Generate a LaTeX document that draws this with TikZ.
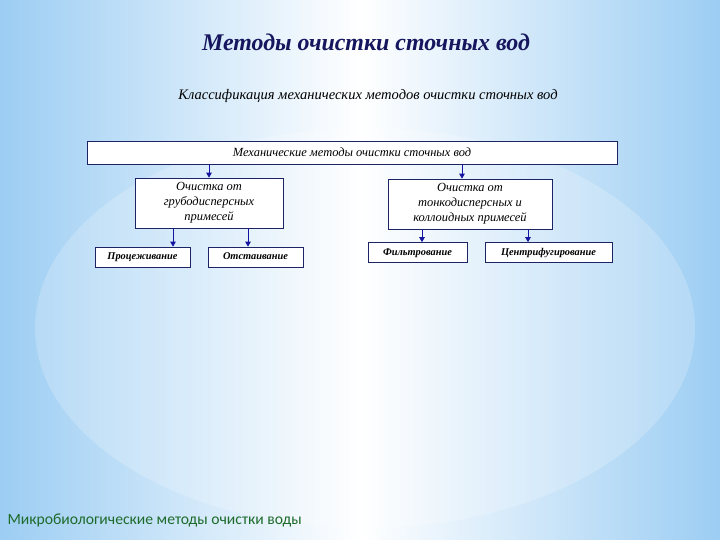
\documentclass[tikz,border=0pt]{standalone}
\usepackage{fontspec}
\setmainfont{Liberation Serif}
\newfontfamily\greensans{Carlito}
\usetikzlibrary{arrows.meta,positioning}
\definecolor{bgblue}{HTML}{9CCDF3}
\definecolor{titlenavy}{HTML}{16165E}
\definecolor{boxnavy}{HTML}{1C2466}
\definecolor{arrblue}{HTML}{1414A0}
\definecolor{microgreen}{HTML}{1D6A2A}

\begin{document}
\begin{tikzpicture}[x=1bp, y=-1bp,
  box/.style={draw=boxnavy, fill=white, line width=0.7pt, inner sep=1pt, align=center,
              font=\fontsize{12.5}{15}\selectfont\itshape},
  leaf/.style={box, minimum height=20bp, text height=7.5pt, text depth=2pt,
               font=\fontsize{10.4}{12}\selectfont\bfseries\itshape},
  arr/.style={-{Triangle[length=5bp,width=5.5bp]}, draw=arrblue, fill=arrblue, line width=0.8pt}
]
\useasboundingbox (0,0) rectangle (720,540);
\shade[left color=bgblue, right color=bgblue, middle color=white] (0,0) rectangle (720,540);
\fill[white, opacity=0.2] (365,328) ellipse [x radius=330, y radius=200];

\node[font=\fontsize{24}{28}\selectfont\bfseries\itshape, text=titlenavy] (ttl) at (366,42) {Методы очистки сточных вод};
\node[font=\fontsize{14.6}{17}\selectfont\itshape] (subttl) at (368,96) {Классификация механических методов очистки сточных вод};

\node[box, minimum width=530bp, minimum height=23bp] (mech) at (352,152.5) {Механические методы очистки сточных вод};
\node[box, minimum width=148bp, minimum height=50bp] (coarse) at (209,203) {Очистка от\\грубодисперсных\\примесей};
\node[box, minimum width=164bp, minimum height=50bp] (fine) at (470,204) {Очистка от\\тонкодисперсных и\\коллоидных примесей};

\node[leaf, minimum width=95bp] (strain) at (142.5,257) {Процеживание};
\node[leaf, minimum width=95bp] (settle) at (255.5,257) {Отстаивание};
\node[leaf, minimum width=99bp] (filt) at (417.5,252.5) {Фильтрование};
\node[leaf, minimum width=127bp] (centr) at (548.5,252.5) {Центрифугирование};

\draw[arr] (mech.south -| coarse.north) -- (coarse.north);
\draw[arr] ([xshift=-8bp]mech.south -| fine.north) -- ([xshift=-8bp]fine.north);
\draw[arr] ([xshift=-36bp]coarse.south) -- ([xshift=-36bp]coarse.south |- strain.north);
\draw[arr] ([xshift=39bp]coarse.south) -- ([xshift=39bp]coarse.south |- settle.north);
\draw[arr] ([xshift=-48bp]fine.south) -- ([xshift=-48bp]fine.south |- filt.north);
\draw[arr] ([xshift=58bp]fine.south) -- ([xshift=58bp]fine.south |- centr.north);

\node[anchor=west, font=\greensans\fontsize{15.7}{18}\selectfont, text=microgreen] (micro) at (4,520) {Микробиологические методы очистки воды};
\end{tikzpicture}
\end{document}
